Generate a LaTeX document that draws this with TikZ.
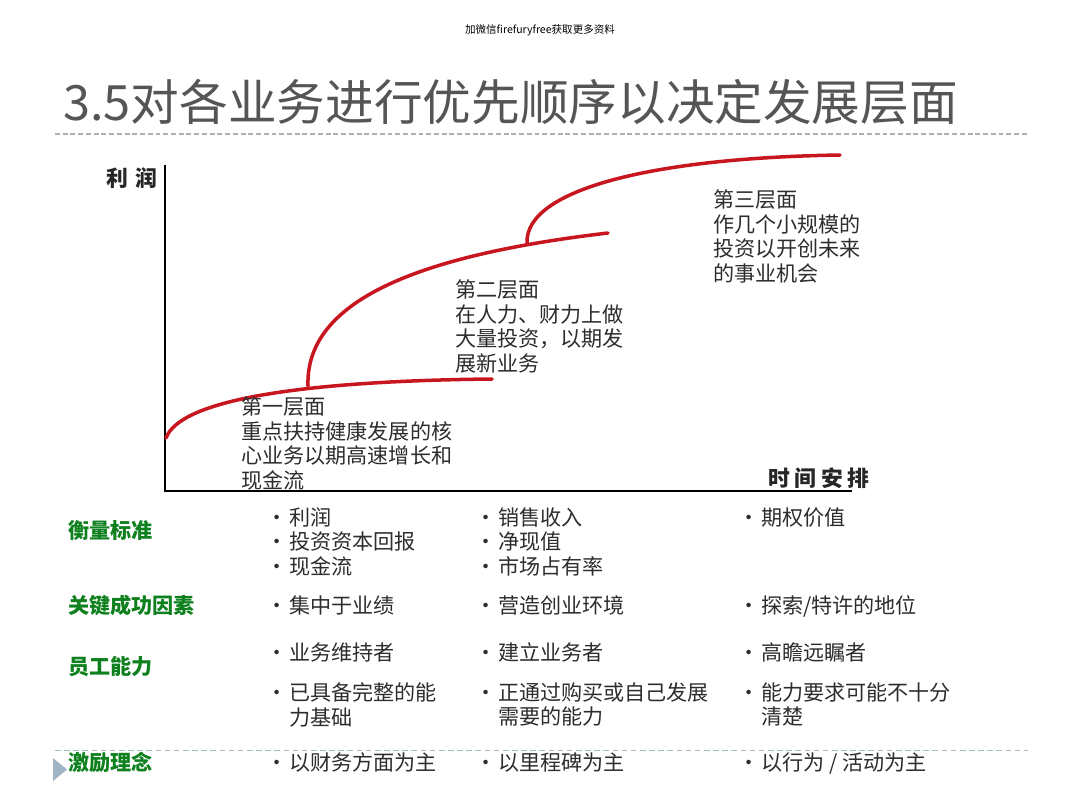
\documentclass[tikz,border=0pt]{standalone}
\usepackage{fontspec}
\setmainfont{Noto Sans CJK SC}
\usepackage{xcolor}
\usepackage{tikz}
\usetikzlibrary{positioning}

\definecolor{curvered}{RGB}{200,22,32}
\definecolor{labelgreen}{RGB}{14,128,30}
\definecolor{titlegray}{RGB}{85,85,85}
\definecolor{bodygray}{RGB}{45,45,45}
\definecolor{rulegray}{RGB}{175,175,175}
\definecolor{rulebluegray}{RGB}{165,190,195}
\definecolor{markerblue}{RGB}{160,180,198}

\newcommand{\bul}{\makebox[0.37cm][l]{\hspace*{-0.19cm}\textbullet}}
\newcommand{\ind}{\hspace*{0.37cm}}

\begin{document}
\begin{tikzpicture}[
  x=0.025cm,
  y=-0.025cm,
  bodytext/.style={
    anchor=north west,
    inner sep=0pt,
    align=left,
    text=bodygray,
    font=\fontsize{15}{17.7}\selectfont
  },
  rowlabel/.style={
    anchor=west,
    inner sep=0pt,
    text=labelgreen,
    font=\fontsize{15}{17.7}\selectfont\bfseries
  },
  axislabel/.style={
    inner sep=0pt,
    text=black!85,
    font=\fontsize{15.5}{18}\selectfont\bfseries
  },
  curveline/.style={
    draw=curvered,
    line width=2.5pt,
    line cap=round
  },
  axisline/.style={
    draw=black,
    line width=2.1pt
  }
]

\useasboundingbox[fill=white] (0,0) rectangle (1080,810);

% header
\node[inner sep=0pt, font=\fontsize{7.5}{9}\selectfont] (watermark) at (540,30) {加微信firefuryfree获取更多资料};
\node[anchor=west, inner sep=0pt, text=titlegray, font=\fontsize{34.6}{40}\selectfont] (title) at (63,102) {3.5对各业务进行优先顺序以决定发展层面};
\draw[rulegray, line width=1.4pt, dash pattern=on 3.5pt off 2pt] (55,134) -- (1028,134);

% axes
\coordinate (origin) at (165,491);
\coordinate (ytop) at (165,165);
\coordinate (xend) at (852,491);
\draw[axisline] (ytop) -- (origin) -- (xend);
\node[axislabel, anchor=east] (profit) at (158,178) {利\hspace{0.2cm}润};
\node[axislabel] (timing) at (819,478) {时\hspace{0.12cm}间\hspace{0.12cm}安\hspace{0.12cm}排};

% horizon curves
\coordinate (h1start) at (166,438);
\coordinate (h1end) at (492,379);
\coordinate (h2start) at (308,386);
\coordinate (h2end) at (608,233);
\coordinate (h3start) at (527,243);
\coordinate (h3end) at (840,155);
\draw[curveline] (h1start) .. controls (180,400) and (300,381) .. (h1end);
\draw[curveline] (h2start) .. controls (305,300) and (420,255) .. (h2end);
\draw[curveline] (h3start) .. controls (525,190) and (650,158) .. (h3end);

\node[bodytext] (horizon1) at (241,396) {第一层面\\重点扶持健康发展的核\\心业务以期高速增长和\\现金流};
\node[bodytext] (horizon2) at (455,279) {第二层面\\在人力、财力上做\\大量投资，以期发\\展新业务};
\node[bodytext] (horizon3) at (713,189) {第三层面\\作几个小规模的\\投资以开创未来\\的事业机会};

% table rows
\node[rowlabel] (measure) at (68,530) {衡量标准};
\node[rowlabel] (success) at (68,605) {关键成功因素};
\node[rowlabel] (staff) at (68,667) {员工能力};
\node[rowlabel] (incentive) at (68,762) {激励理念};

\node[bodytext] (measureA) at (274,507) {\bul 利润\\\bul 投资资本回报\\\bul 现金流};
\node[bodytext] (measureB) at (483,507) {\bul 销售收入\\\bul 净现值\\\bul 市场占有率};
\node[bodytext] (measureC) at (746,507) {\bul 期权价值};

\node[bodytext] (successA) at (274,595) {\bul 集中于业绩};
\node[bodytext] (successB) at (483,595) {\bul 营造创业环境};
\node[bodytext] (successC) at (746,595) {\bul 探索/特许的地位};

\node[bodytext] (staffA) at (274,642) {\bul 业务维持者};
\node[bodytext] (staffB) at (483,642) {\bul 建立业务者};
\node[bodytext] (staffC) at (746,642) {\bul 高瞻远瞩者};

\node[bodytext] (skillA) at (274,682) {\bul 已具备完整的能\\\ind 力基础};
\node[bodytext] (skillB) at (483,682) {\bul 正通过购买或自己发展\\\ind 需要的能力};
\node[bodytext] (skillC) at (746,682) {\bul 能力要求可能不十分\\\ind 清楚};

\draw[rulebluegray, line width=0.7pt, dash pattern=on 4pt off 2.5pt] (55,750) -- (1028,750);
\fill[markerblue] (53,758) -- (67,769.5) -- (53,781) -- cycle;

\node[bodytext] (incentiveA) at (274,752) {\bul 以财务方面为主};
\node[bodytext] (incentiveB) at (483,752) {\bul 以里程碑为主};
\node[bodytext] (incentiveC) at (746,752) {\bul 以行为 / 活动为主};

\end{tikzpicture}
\end{document}
